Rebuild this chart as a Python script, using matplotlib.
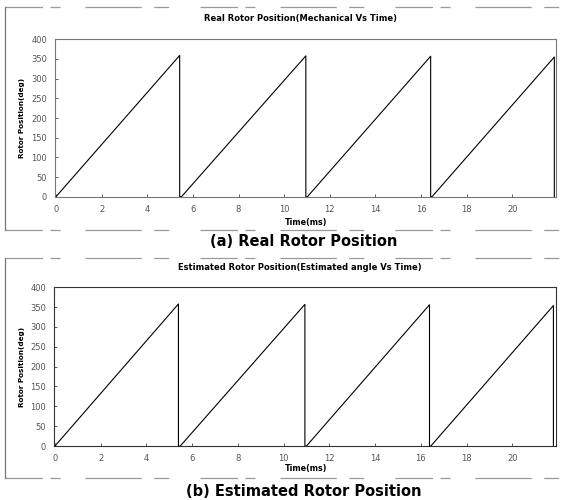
import numpy as np
import matplotlib.pyplot as plt
from matplotlib.lines import Line2D

plt.rcParams['font.family'] = ['DejaVu Sans']

# sawtooth corner points: ramp up to the peak, drop to zero, short hold, next ramp
real_time = [0, 5.42, 5.42, 5.50, 10.95, 10.95, 11.02, 16.42, 16.42, 16.48, 21.84, 21.84]
real_angle = [0, 359, 0, 0, 358, 0, 0, 357, 0, 0, 355, 0]

est_time = [0, 5.40, 5.40, 5.48, 10.93, 10.93, 11.00, 16.38, 16.38, 16.44, 21.80, 21.80]
est_angle = [0, 358, 0, 0, 357, 0, 0, 356, 0, 0, 354, 0]

x_ticks = [0, 2, 4, 6, 8, 10, 12, 14, 16, 18, 20]
y_ticks = [0, 50, 100, 150, 200, 250, 300, 350, 400]

titles = ['Real Rotor Position(Mechanical Vs Time)',
          'Estimated Rotor Position(Estimated angle Vs Time)']
captions = ['(a) Real Rotor Position', '(b) Estimated Rotor Position']

fig = plt.figure(figsize=(5.63, 5.0), dpi=100)
W, H = 563.0, 500.0

def fx(px):
    return px / W

def fy(py):
    return 1 - py / H

panels = [
    dict(t=real_time, a=real_angle, box=(55.3, 39.3, 555.7, 196.7),
         title_y=19, xlabel_y=222, cap_y=241, frame=(5, 7, 230), spine='#777'),
    dict(t=est_time, a=est_angle, box=(54.3, 287.3, 555.7, 446),
         title_y=268, xlabel_y=469, cap_y=491, frame=(5, 258, 478), spine='#333'),
]

for i, p in enumerate(panels):
    x0, y0, x1, y1 = p['box']
    ax = fig.add_axes([fx(x0), fy(y1), fx(x1 - x0), (y1 - y0) / H])
    ax.plot(p['t'], p['a'], color='black', lw=0.8)
    ax.set_xlim(-0.03, 21.9)
    ax.set_ylim(0, 400)
    ax.set_xticks(x_ticks)
    ax.set_yticks(y_ticks)
    ax.tick_params(direction='in', length=2, width=0.6, colors='#444',
                   labelsize=6, labelcolor='#555', pad=6)
    for s in ax.spines.values():
        s.set_color(p['spine'])
        s.set_linewidth(0.8)

    fig.text(0.533, fy(p['title_y']), titles[i], ha='center', va='center',
             fontsize=6, fontweight='bold')
    fig.text(0.543, fy(p['xlabel_y']), 'Time(ms)', ha='center', va='center',
             fontsize=5.8, fontweight='bold')
    fig.text(fx(22), (fy(y0) + fy(y1)) / 2, 'Rotor Position(deg)', rotation=90,
             ha='center', va='center', fontsize=5.2, fontweight='bold')
    fig.text(0.54, fy(p['cap_y']), captions[i], ha='center', va='center',
             fontsize=10.5, fontweight='bold')

    # faint broken frame around each panel
    left, top, bottom = p['frame']
    dash = (0, (30, 6, 8, 20, 45, 10, 12, 25))
    fig.add_artist(Line2D((fx(left), 1.0), (fy(top), fy(top)),
                          color='#999', lw=0.9, linestyle=dash))
    fig.add_artist(Line2D((fx(left), 1.0), (fy(bottom), fy(bottom)),
                          color='#999', lw=0.9, linestyle=dash))
    fig.add_artist(Line2D((fx(left), fx(left)), (fy(top), fy(bottom)),
                          color='#777', lw=0.9))

fig.savefig('out.png', dpi=100)
